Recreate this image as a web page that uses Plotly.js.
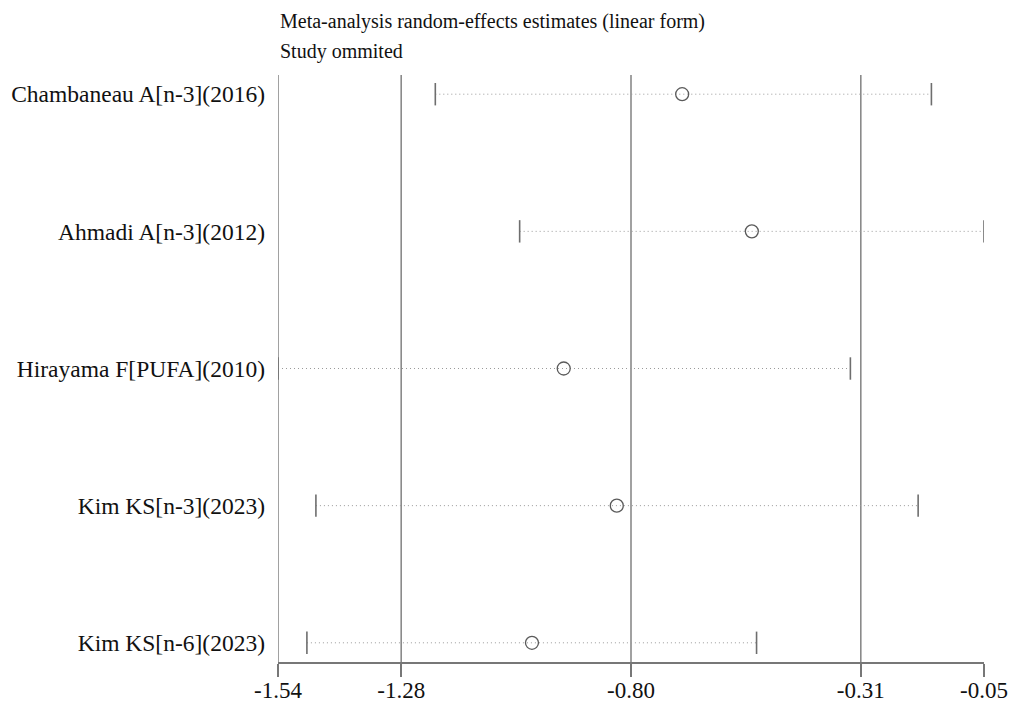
<!DOCTYPE html>
<html>
<head>
<meta charset="utf-8">
<script src="https://cdn.plot.ly/plotly-3.0.1.min.js"></script>
<style>html,body{margin:0;padding:0;background:#fff;}#chart{width:1016px;height:704px;}</style>
</head>
<body>
<div id="chart"></div>
<script>
// Data
var studies = ["Chambaneau A[n-3](2016)", "Ahmadi A[n-3](2012)", "Hirayama F[PUFA](2010)", "Kim KS[n-3](2023)", "Kim KS[n-6](2023)"];
var estimate = [-0.687, -0.540, -0.937, -0.825, -1.004];
var lower = [-1.208, -1.030, -1.540, -1.460, -1.479];
var upper = [-0.161, -0.050, -0.332, -0.189, -0.530];
var tickVals = [-1.54, -1.28, -0.795, -0.31, -0.05];
var tickText = ["-1.54", "-1.28", "-0.80", "-0.31", "-0.05"];
var refLines = [-1.54, -1.28, -0.795, -0.31];
var titleLines = ["Meta-analysis random-effects estimates (linear form)", "Study ommited"];

var rows = studies.map(function(_, i){ return i + 1; });
var serif = "Liberation Serif, Times New Roman, serif";

var ciX = [], ciY = [];
rows.forEach(function(r, i){ ciX.push(lower[i], upper[i], null); ciY.push(r, r, null); });

var capX = [], capY = [];
rows.forEach(function(r, i){ capX.push(lower[i], upper[i]); capY.push(r, r); });

var traces = [
  {x: ciX, y: ciY, mode: "lines", type: "scatter", line: {color: "#9a9a9a", width: 1, dash: "1px,3px"}, hoverinfo: "skip", showlegend: false},
  {x: capX, y: capY, mode: "markers", type: "scatter", marker: {symbol: "line-ns", size: 16, line: {color: "#6e6e6e", width: 1.6}}, showlegend: false},
  {x: estimate, y: rows, mode: "markers", type: "scatter", marker: {symbol: "circle-open", size: 13, color: "#5a5a5a", line: {color: "#5a5a5a", width: 1.3}}, showlegend: false}
];

var shapes = refLines.map(function(v){
  return {type: "line", xref: "x", yref: "paper", x0: v, x1: v, y0: 0, y1: 1, line: {color: "#8a8a8a", width: 1.6}, layer: "below"};
});

var annotations = titleLines.map(function(t, i){
  return {text: t, xref: "paper", yref: "paper", x: 0, y: 1, xanchor: "left", yanchor: "middle", yshift: i === 0 ? 54 : 24, showarrow: false, font: {family: serif, size: 20, color: "#111"}};
});

var layout = {
  width: 1016, height: 704,
  margin: {l: 278, r: 32, t: 75, b: 42},
  paper_bgcolor: "#fff", plot_bgcolor: "#fff",
  showlegend: false,
  xaxis: {range: [-1.54, -0.05], tickvals: tickVals, ticktext: tickText, showgrid: false, zeroline: false,
          showline: true, linecolor: "#777", linewidth: 1.6, ticks: "outside", ticklen: 13, tickwidth: 1.6, tickcolor: "#777",
          ticklabelstandoff: -6,
          tickfont: {family: serif, size: 23, color: "#111"}},
  yaxis: {range: [5.14, 0.86], tickvals: rows, ticktext: studies, showgrid: false, zeroline: false, showline: false,
          ticks: "", ticklabelstandoff: 12, tickfont: {family: serif, size: 23.5, color: "#111"}},
  shapes: shapes,
  annotations: annotations
};

Plotly.newPlot("chart", traces, layout, {staticPlot: true});
</script>
</body>
</html>
